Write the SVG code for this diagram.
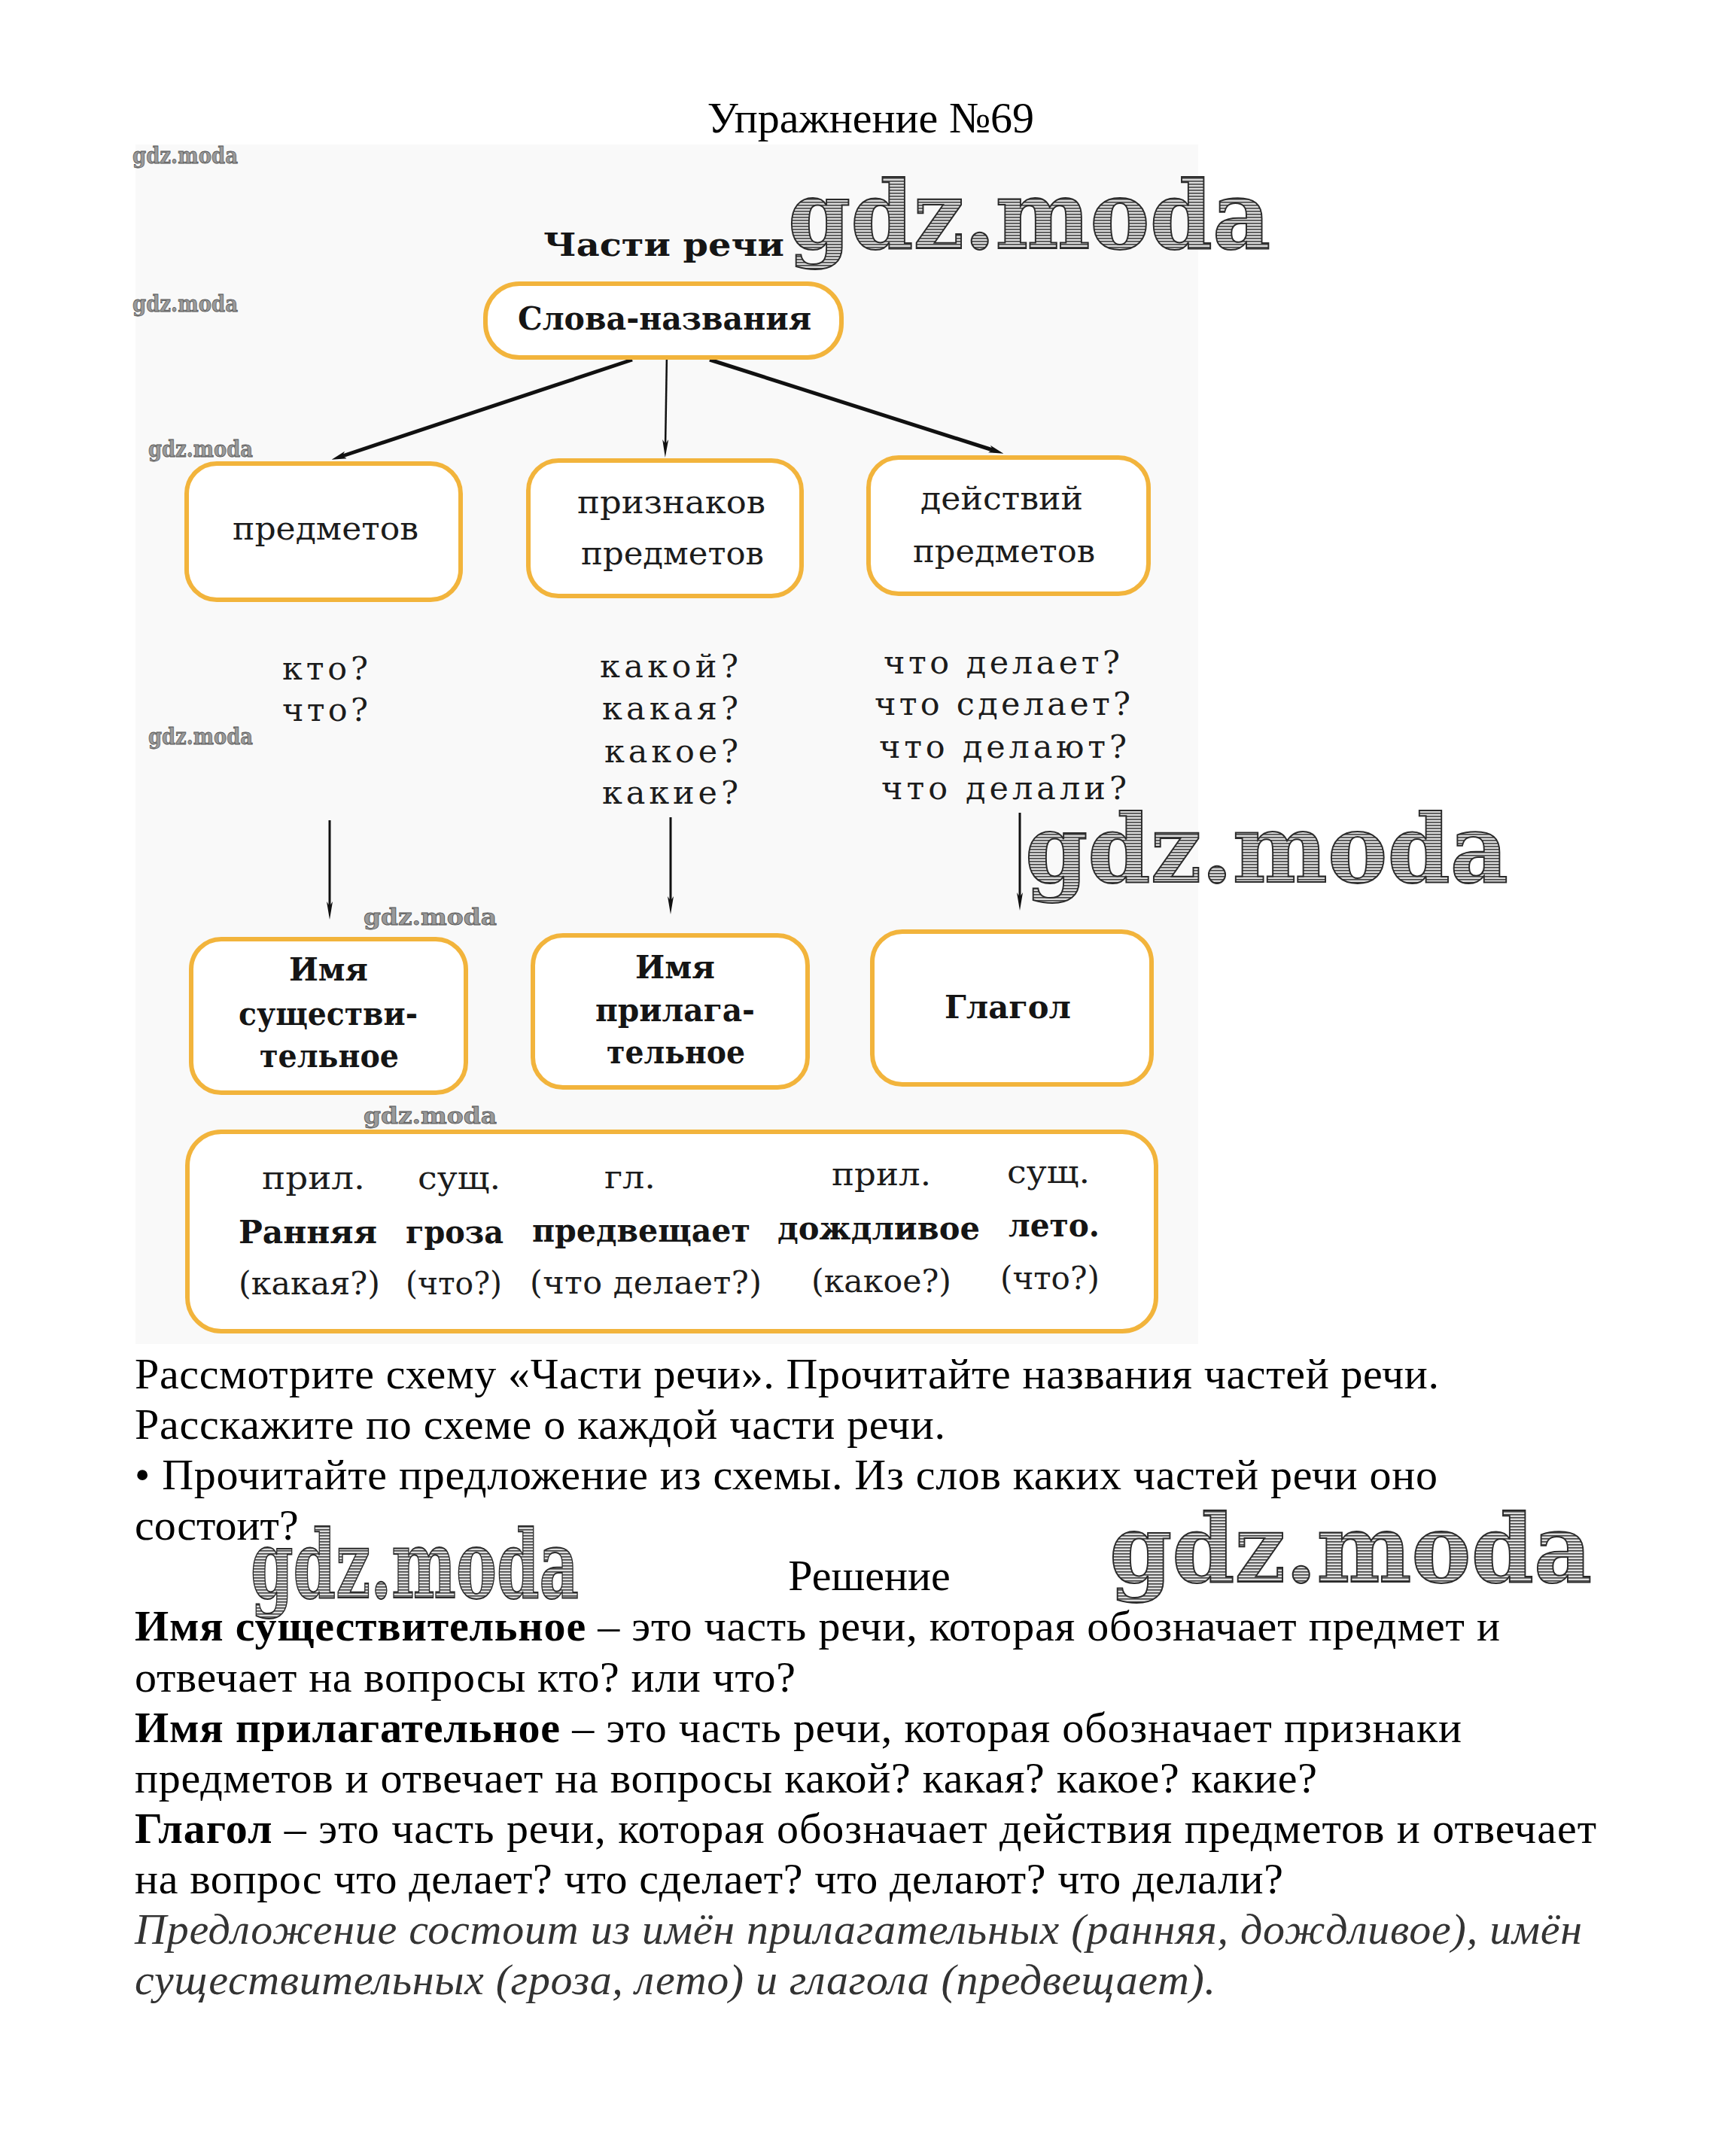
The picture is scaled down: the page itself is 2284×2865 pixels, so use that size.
<svg xmlns="http://www.w3.org/2000/svg" width="2284" height="2865" viewBox="0 0 2284 2865">
<defs>
<style>
.box{fill:#ffffff;stroke:#f2b43c;stroke-width:6}
.lbl{font-family:"DejaVu Serif","Liberation Serif",serif;font-size:43px;fill:#1c1c1c}
.bl{font-family:"DejaVu Serif","Liberation Serif",serif;font-size:43px;font-weight:bold;fill:#151515}
.body{font-family:"Liberation Serif","Times New Roman",serif;font-size:58px;fill:#000}
.it{font-style:italic;fill:#333}
.wm{font-family:"DejaVu Serif","Liberation Serif",serif;font-weight:bold;font-size:125px;fill:url(#hatch);stroke:#2a2a2a;stroke-width:2}
.wms{font-family:"DejaVu Serif","Liberation Serif",serif;font-weight:bold;font-size:30px;fill:#9a9a9a;stroke:#555;stroke-width:0.8}
.con{stroke:#111;fill:none}
</style>
<pattern id="hatch" width="6" height="4" patternUnits="userSpaceOnUse">
<rect width="6" height="4" fill="#dcdcdc"/>
<rect width="6" height="1.6" fill="#444"/>
</pattern>
<marker id="ah" viewBox="0 0 20 10" refX="8" refY="5" markerWidth="20" markerHeight="10" markerUnits="userSpaceOnUse" orient="auto">
<path d="M0,0 L20,5 L0,10 L5,5 z" fill="#111"/>
</marker>
<marker id="ahv" viewBox="0 0 24 8" refX="12" refY="4" markerWidth="24" markerHeight="8" markerUnits="userSpaceOnUse" orient="auto">
<path d="M0,0 L24,4 L0,8 L6,4 z" fill="#111"/>
</marker>
</defs>
<rect width="2284" height="2865" fill="#ffffff"/>
<rect x="180" y="192" width="1412" height="1594" fill="#f9f9f9"/>

<text class="body" x="1157" y="176" text-anchor="middle">Упражнение №69</text>

<g id="title">
<text class="bl" x="722" y="340" font-size="50" textLength="320" lengthAdjust="spacingAndGlyphs">Части  речи</text>
</g>

<g id="connectors">
<line class="con" x1="840" y1="478" x2="452" y2="607" stroke-width="5" marker-end="url(#ah)"/>
<line class="con" x1="886" y1="470" x2="884" y2="596" stroke-width="2.5" marker-end="url(#ahv)"/>
<line class="con" x1="943" y1="478" x2="1322" y2="599" stroke-width="5" marker-end="url(#ah)"/>
<line class="con" x1="438" y1="1090" x2="438" y2="1210" stroke-width="3" marker-end="url(#ahv)"/>
<line class="con" x1="891" y1="1086" x2="891" y2="1203" stroke-width="3" marker-end="url(#ahv)"/>
<line class="con" x1="1355" y1="1080" x2="1355" y2="1198" stroke-width="3" marker-end="url(#ahv)"/>
</g>

<g id="slova">
<rect class="box" x="645" y="377" width="473" height="98" rx="45"/>
<text class="bl" x="688" y="438" textLength="390" lengthAdjust="spacingAndGlyphs">Слова-названия</text>
</g>

<g id="predmetov">
<rect class="box" x="248" y="616" width="364" height="181" rx="40"/>
<text class="lbl" x="309" y="717" textLength="247" lengthAdjust="spacingAndGlyphs">предметов</text>
</g>
<g id="priznakov">
<rect class="box" x="702" y="612" width="363" height="180" rx="40"/>
<text class="lbl" x="767" y="682" textLength="250" lengthAdjust="spacingAndGlyphs">признаков</text>
<text class="lbl" x="772" y="750" textLength="243" lengthAdjust="spacingAndGlyphs">предметов</text>
</g>
<g id="deystviy">
<rect class="box" x="1154" y="608" width="372" height="181" rx="40"/>
<text class="lbl" x="1223" y="677" textLength="216" lengthAdjust="spacingAndGlyphs">действий</text>
<text class="lbl" x="1213" y="747" textLength="242" lengthAdjust="spacingAndGlyphs">предметов</text>
</g>

<g id="q-noun">
<text class="lbl" x="375" y="903" textLength="114" lengthAdjust="spacing">кто?</text>
<text class="lbl" x="375" y="958" textLength="114" lengthAdjust="spacing">что?</text>
</g>
<g id="q-adj">
<text class="lbl" x="797" y="900" textLength="184" lengthAdjust="spacing">какой?</text>
<text class="lbl" x="800" y="956" textLength="181" lengthAdjust="spacing">какая?</text>
<text class="lbl" x="803" y="1013" textLength="178" lengthAdjust="spacing">какое?</text>
<text class="lbl" x="800" y="1068" textLength="181" lengthAdjust="spacing">какие?</text>
</g>
<g id="q-verb">
<text class="lbl" x="1174" y="895" textLength="314" lengthAdjust="spacing">что  делает?</text>
<text class="lbl" x="1162" y="950" textLength="340" lengthAdjust="spacing">что  сделает?</text>
<text class="lbl" x="1168" y="1007" textLength="329" lengthAdjust="spacing">что  делают?</text>
<text class="lbl" x="1171" y="1062" textLength="326" lengthAdjust="spacing">что  делали?</text>
</g>

<g id="noun">
<rect class="box" x="254" y="1248" width="365" height="204" rx="40"/>
<text class="bl" x="384" y="1303" textLength="105" lengthAdjust="spacingAndGlyphs">Имя</text>
<text class="bl" x="317" y="1362" textLength="238" lengthAdjust="spacingAndGlyphs">существи-</text>
<text class="bl" x="345" y="1418" textLength="185" lengthAdjust="spacingAndGlyphs">тельное</text>
</g>
<g id="adj">
<rect class="box" x="708" y="1243" width="365" height="202" rx="40"/>
<text class="bl" x="844" y="1300" textLength="106" lengthAdjust="spacingAndGlyphs">Имя</text>
<text class="bl" x="791" y="1357" textLength="212" lengthAdjust="spacingAndGlyphs">прилага-</text>
<text class="bl" x="806" y="1413" textLength="184" lengthAdjust="spacingAndGlyphs">тельное</text>
</g>
<g id="verb">
<rect class="box" x="1159" y="1238" width="371" height="203" rx="40"/>
<text class="bl" x="1255" y="1353" textLength="168" lengthAdjust="spacingAndGlyphs">Глагол</text>
</g>

<g id="sentence">
<rect class="box" x="249" y="1504" width="1287" height="265" rx="45"/>
<text class="lbl" x="348" y="1580" textLength="137" lengthAdjust="spacingAndGlyphs">прил.</text>
<text class="lbl" x="555" y="1580" textLength="110" lengthAdjust="spacingAndGlyphs">сущ.</text>
<text class="lbl" x="803" y="1579" textLength="68" lengthAdjust="spacingAndGlyphs">гл.</text>
<text class="lbl" x="1105" y="1575" textLength="132" lengthAdjust="spacingAndGlyphs">прил.</text>
<text class="lbl" x="1338" y="1572" textLength="110" lengthAdjust="spacingAndGlyphs">сущ.</text>
<text class="bl" x="317" y="1652" textLength="184" lengthAdjust="spacingAndGlyphs">Ранняя</text>
<text class="bl" x="539" y="1652" textLength="130" lengthAdjust="spacingAndGlyphs">гроза</text>
<text class="bl" x="707" y="1650" textLength="290" lengthAdjust="spacingAndGlyphs">предвещает</text>
<text class="bl" x="1033" y="1647" textLength="269" lengthAdjust="spacingAndGlyphs">дождливое</text>
<text class="bl" x="1340" y="1643" textLength="121" lengthAdjust="spacingAndGlyphs">лето.</text>
<text class="lbl" x="317" y="1720" textLength="188" lengthAdjust="spacingAndGlyphs">(какая?)</text>
<text class="lbl" x="539" y="1720" textLength="128" lengthAdjust="spacingAndGlyphs">(что?)</text>
<text class="lbl" x="704" y="1719" textLength="308" lengthAdjust="spacing">(что  делает?)</text>
<text class="lbl" x="1078" y="1717" textLength="186" lengthAdjust="spacingAndGlyphs">(какое?)</text>
<text class="lbl" x="1329" y="1713" textLength="132" lengthAdjust="spacingAndGlyphs">(что?)</text>
</g>

<g id="task-text">
<text class="body" x="179" y="1845" textLength="1733" lengthAdjust="spacing">Рассмотрите схему «Части речи». Прочитайте названия частей речи.</text>
<text class="body" x="179" y="1912" textLength="1077" lengthAdjust="spacing">Расскажите по схеме о каждой части речи.</text>
<text class="body" x="179" y="1979" textLength="1731" lengthAdjust="spacing">• Прочитайте предложение из схемы. Из слов каких частей речи оно</text>
<text class="body" x="179" y="2046">состоит?</text>
<text class="body" x="1155" y="2113" text-anchor="middle">Решение</text>
<text class="body" x="179" y="2180" textLength="1814" lengthAdjust="spacing"><tspan font-weight="bold">Имя существительное</tspan> – это часть речи, которая обозначает предмет и</text>
<text class="body" x="179" y="2248" textLength="878" lengthAdjust="spacing">отвечает на вопросы кто? или что?</text>
<text class="body" x="179" y="2315" textLength="1763" lengthAdjust="spacing"><tspan font-weight="bold">Имя прилагательное</tspan> – это часть речи, которая обозначает признаки</text>
<text class="body" x="179" y="2382" textLength="1571" lengthAdjust="spacing">предметов и отвечает на вопросы какой? какая? какое? какие?</text>
<text class="body" x="179" y="2449" textLength="1942" lengthAdjust="spacing"><tspan font-weight="bold">Глагол</tspan> – это часть речи, которая обозначает действия предметов и отвечает</text>
<text class="body" x="179" y="2516" textLength="1526" lengthAdjust="spacing">на вопрос что делает? что сделает? что делают? что делали?</text>
<text class="body it" x="179" y="2583" textLength="1923" lengthAdjust="spacing">Предложение состоит из имён прилагательных (ранняя, дождливое), имён</text>
<text class="body it" x="179" y="2650" textLength="1436" lengthAdjust="spacing">существительных (гроза, лето) и глагола (предвещает).</text>
</g>

<g id="watermarks">
<text class="wms" x="176" y="217" textLength="140" lengthAdjust="spacingAndGlyphs">gdz.moda</text>
<text class="wms" x="176" y="414" textLength="140" lengthAdjust="spacingAndGlyphs">gdz.moda</text>
<text class="wms" x="197" y="607" textLength="139" lengthAdjust="spacingAndGlyphs">gdz.moda</text>
<text class="wms" x="197" y="989" textLength="139" lengthAdjust="spacingAndGlyphs">gdz.moda</text>
<text class="wms" x="483" y="1229" font-size="34" textLength="177" lengthAdjust="spacingAndGlyphs">gdz.moda</text>
<text class="wms" x="483" y="1493" font-size="34" textLength="177" lengthAdjust="spacingAndGlyphs">gdz.moda</text>
<text class="wm" x="1047" y="330" textLength="641" lengthAdjust="spacingAndGlyphs">gdz.moda</text>
<text class="wm" x="1362" y="1172" textLength="642" lengthAdjust="spacingAndGlyphs">gdz.moda</text>
<text class="wm" x="333" y="2123" font-size="86" textLength="436" lengthAdjust="spacingAndGlyphs">gdz.moda</text>
<text class="wm" x="1474" y="2102" textLength="641" lengthAdjust="spacingAndGlyphs">gdz.moda</text>
</g>
</svg>
